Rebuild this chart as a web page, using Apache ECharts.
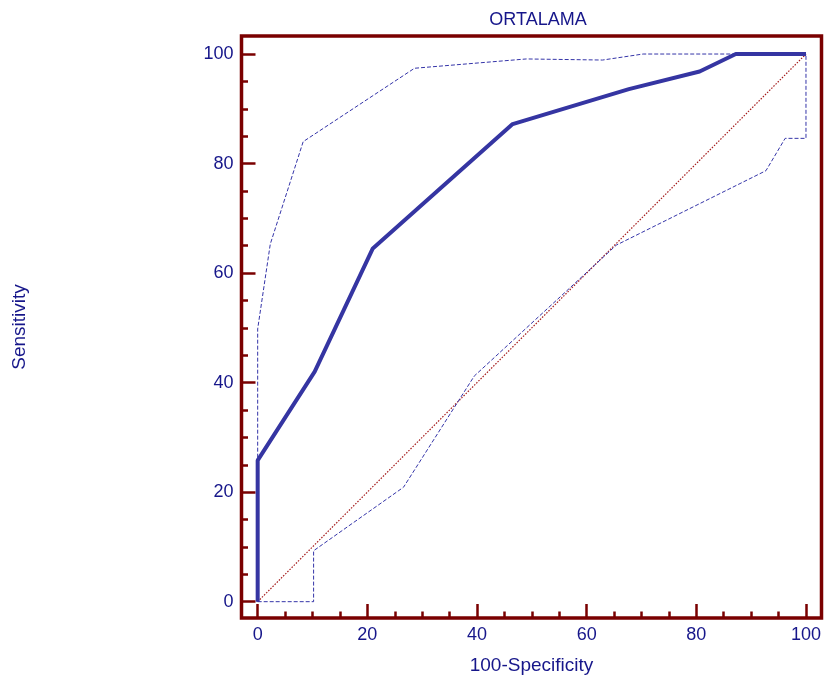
<!DOCTYPE html>
<html>
<head>
<meta charset="utf-8">
<script src="https://cdn.jsdelivr.net/npm/echarts@6/dist/echarts.min.js"></script>
<style>
  html, body { margin: 0; padding: 0; background: #fff; }
</style>
</head>
<body>
<div id="chart" style="width: 827px; height: 682px"></div>
<script>
// ROC curve and its confidence bounds, [100-Specificity, Sensitivity]
var rocCurve = [[0, 0], [0, 25.8], [10.4, 42], [21, 64.5], [46.5, 87.2], [67.7, 93.6], [80.6, 96.8], [87.2, 100], [100, 100]]
var upperBound = [[0, 0], [0, 49.8], [2.3, 65.3], [8.3, 84], [28.6, 97.4], [49, 99.1], [62.9, 98.9], [70.3, 100], [100, 100]]
var lowerBound = [[0, 0], [10.2, 0], [10.2, 9.3], [26.6, 20.9], [39.5, 41.2], [65.4, 65.1], [92.7, 78.7], [96.2, 84.6], [100, 84.6], [100, 100]]
var chanceLine = [[0, 0], [100, 100]]

var majorTicks = [0, 20, 40, 60, 80, 100]
var minorTicks = [5, 10, 15, 25, 30, 35, 45, 50, 55, 65, 70, 75, 85, 90, 95]

var axisColor = '#7a0000'
var textColor = '#16168a'
var font = 'Liberation Sans, Arial, sans-serif'

function makeAxis (pos, min, max, ticks, len, withLabels) {
  return {
    type: 'value',
    position: pos,
    min: min,
    max: max,
    axisLine: { show: false, onZero: false },
    splitLine: { show: false },
    axisTick: {
      show: true,
      inside: true,
      length: len,
      customValues: ticks,
      lineStyle: { color: axisColor, width: 2.5 }
    },
    axisLabel: {
      show: withLabels,
      customValues: majorTicks,
      margin: 8,
      color: textColor,
      fontSize: 18,
      fontFamily: font
    }
  }
}

var xMain = makeAxis('bottom', -2.95, 102.83, majorTicks, 14, true)
xMain.name = '100-Specificity'
xMain.nameLocation = 'middle'
xMain.nameGap = 38
xMain.nameTextStyle = { color: textColor, fontSize: 19, fontFamily: font }

var yMain = makeAxis('left', -2.98, 103.29, majorTicks, 14, true)
yMain.name = 'Sensitivity'
yMain.nameLocation = 'middle'
yMain.nameGap = 212
yMain.nameTextStyle = { color: textColor, fontSize: 19, fontFamily: font }

var myChart = echarts.init(document.getElementById('chart'))
myChart.setOption({
  animation: false,
  title: {
    text: 'ORTALAMA',
    left: 533,
    top: 6,
    textAlign: 'center',
    textStyle: { color: textColor, fontSize: 18, fontWeight: 'normal', fontFamily: font }
  },
  grid: {
    left: 241.5,
    right: 5.5,
    top: 36,
    bottom: 64,
    show: true,
    borderColor: axisColor,
    borderWidth: 3.5
  },
  xAxis: [
    xMain,
    makeAxis('bottom', -2.95, 102.83, minorTicks, 6.5, false)
  ],
  yAxis: [
    yMain,
    makeAxis('left', -2.98, 103.29, minorTicks, 6.5, false)
  ],
  series: [
    {
      name: 'chance',
      type: 'line',
      data: chanceLine,
      symbol: 'none',
      z: 1,
      lineStyle: { color: '#a51c1c', width: 1.2, type: [1.5, 1.5] }
    },
    {
      name: 'lower',
      type: 'line',
      data: lowerBound,
      symbol: 'none',
      z: 2,
      lineStyle: { color: '#3434a8', width: 1, type: [4, 2] }
    },
    {
      name: 'upper',
      type: 'line',
      data: upperBound,
      symbol: 'none',
      z: 2,
      lineStyle: { color: '#3434a8', width: 1, type: [4, 2] }
    },
    {
      name: 'roc',
      type: 'line',
      data: rocCurve,
      symbol: 'none',
      z: 3,
      lineStyle: { color: '#3535a2', width: 4 }
    }
  ]
})
</script>
</body>
</html>
